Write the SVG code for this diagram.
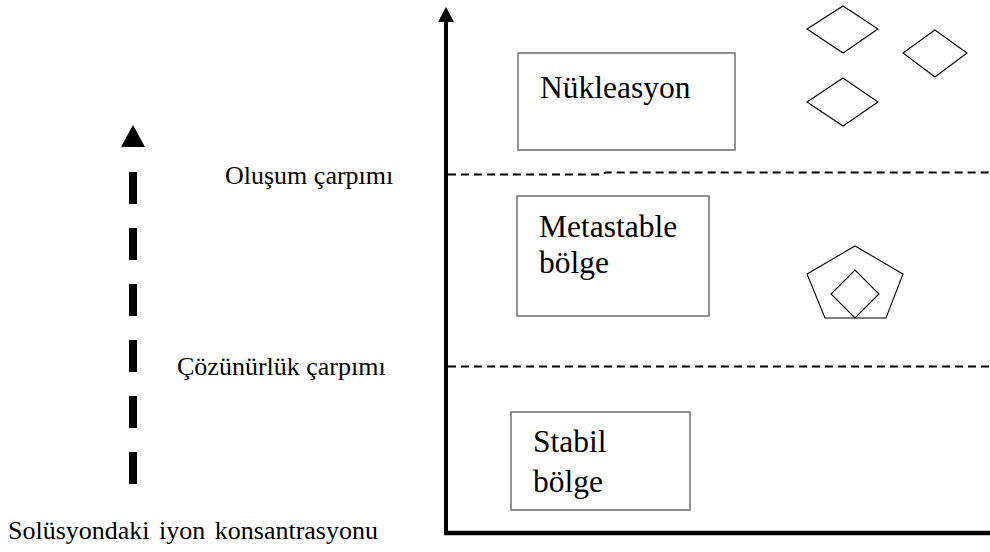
<svg xmlns="http://www.w3.org/2000/svg" width="990" height="552" viewBox="0 0 990 552">
<style>
.box{fill:#fff;stroke:#777;stroke-width:1.6}
.t{font-family:"Liberation Serif","Times New Roman",serif;fill:#000}
.big{font-size:31.5px}
.lbl{font-size:26px}
.dash{fill:none;stroke:#000;stroke-width:2;stroke-dasharray:8 5}
.shape{fill:none;stroke:#000;stroke-width:1.1}
</style>
<rect width="990" height="552" fill="#fff"/>
<g id="connectors">
  <line x1="446" y1="20" x2="446" y2="535" stroke="#000" stroke-width="4"/>
  <polygon points="446,7 438,22 454,22" fill="#000"/>
  <line x1="444" y1="533" x2="990" y2="533" stroke="#000" stroke-width="4.5"/>
  <path class="dash" d="M448,174.5 L600,174.5 L606,172.5 L990,172.5"/>
  <path class="dash" d="M448,366.5 L990,366.5"/>
  <line x1="133" y1="172" x2="133" y2="490" stroke="#000" stroke-width="8" stroke-dasharray="32 24"/>
  <polygon points="133,125 121,147 145,147" fill="#000"/>
</g>
<g id="node-nukleasyon">
  <rect class="box" x="518" y="53" width="217" height="97"/>
  <text class="t big" x="540" y="98">Nükleasyon</text>
</g>
<g id="node-metastable">
  <rect class="box" x="517" y="196" width="192" height="120"/>
  <text class="t big" x="539" y="237">Metastable</text>
  <text class="t big" x="539" y="273">bölge</text>
</g>
<g id="node-stabil">
  <rect class="box" x="511" y="412" width="179" height="98"/>
  <text class="t big" x="533" y="452">Stabil</text>
  <text class="t big" x="533" y="492">bölge</text>
</g>
<g id="crystals">
  <polygon class="shape" points="843,6 878,29 843,53 807,29"/>
  <polygon class="shape" points="935,30 967,53 935,77 903,53"/>
  <polygon class="shape" points="843,78 878,102 843,126 807,102"/>
  <polygon class="shape" points="855,246 903,274 886,318 825,318 807,274"/>
  <polygon class="shape" points="855,270 879,294 855,318 831,294"/>
</g>
<g id="labels">
  <text class="t lbl" x="225" y="184">Oluşum çarpımı</text>
  <text class="t lbl" x="177" y="375">Çözünürlük çarpımı</text>
  <text class="t lbl" x="8" y="539" word-spacing="3">Solüsyondaki iyon konsantrasyonu</text>
</g>
</svg>
